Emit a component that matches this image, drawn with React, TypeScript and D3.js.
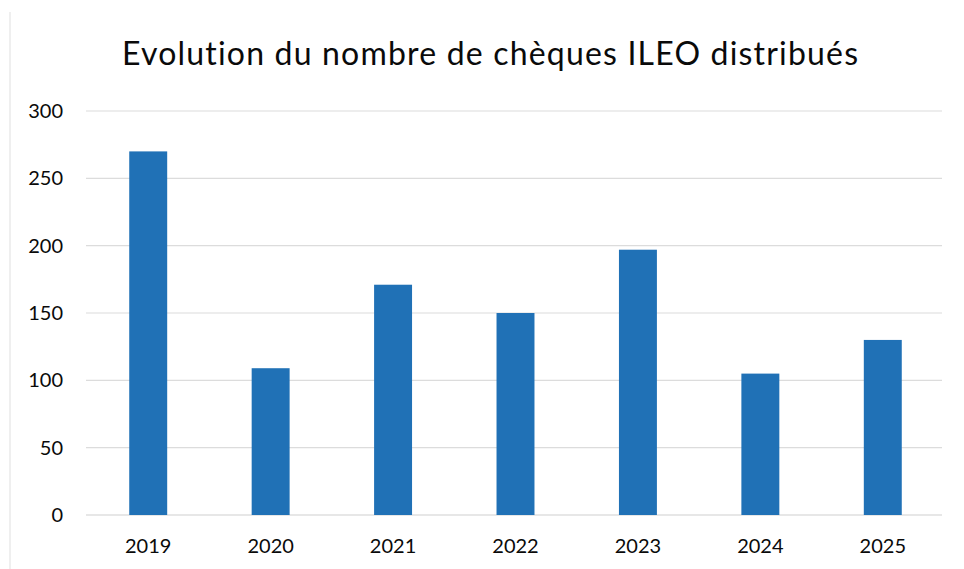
import React from "react";
import * as d3 from "d3";

const years = ["2019", "2020", "2021", "2022", "2023", "2024", "2025"];
const values = [270, 109, 171, 150, 197, 105, 130];
const yTicks = [0, 50, 100, 150, 200, 250, 300];
const title = "Evolution du nombre de chèques ILEO distribués";

const W = 964;
const H = 569;
const FONT = "Lato, 'Open Sans', sans-serif";

export default function App() {
  const x = d3.scaleBand<string>().domain(years).range([87, 944]).paddingInner(0.69).paddingOuter(0.345);
  const y = d3.scaleLinear().domain([0, 300]).range([515, 111]);
  return (
    <svg width={W} height={H} style={{ position: "absolute", left: 0, top: 0, background: "#fff", fontVariantLigatures: "none" }}>
      <rect x={0} y={0} width={W} height={H} fill="#fff" />
      <line x1={10} x2={10} y1={12} y2={H} stroke="#e4e4e4" strokeWidth={1.2} />
      <text x={122} y={65} fontFamily={FONT} fontSize={32} fill="#0a0a0a" textLength={736} lengthAdjust="spacing">
        {title}
      </text>
      {yTicks.map((t) => (
        <g key={t}>
          <line x1={86} x2={942} y1={y(t)} y2={y(t)} stroke={t === 0 ? "#cfcfcf" : "#dcdcdc"} strokeWidth={1.2} />
          <text x={63} y={y(t) + 7} textAnchor="end" fontFamily={FONT} fontSize={20} fill="#0a0a0a">
            {t}
          </text>
        </g>
      ))}
      {years.map((yr, i) => (
        <rect key={yr} x={x(yr)} y={y(values[i])} width={x.bandwidth()} height={y(0) - y(values[i])} fill="#2071B6" />
      ))}
      {years.map((yr) => (
        <text key={yr} x={(x(yr) as number) + x.bandwidth() / 2} y={553} textAnchor="middle" fontFamily={FONT} fontSize={20} fill="#0a0a0a">
          {yr}
        </text>
      ))}
    </svg>
  );
}
